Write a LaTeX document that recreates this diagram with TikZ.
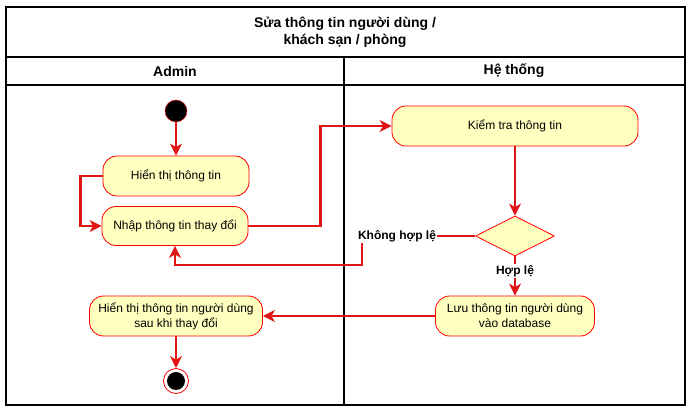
\documentclass[tikz,border=0pt]{standalone}
\usepackage{fontspec}
\setmainfont{Liberation Sans}
\usepackage{tikz}
\usetikzlibrary{arrows.meta}
\usetikzlibrary{shapes.geometric}
\usetikzlibrary{positioning}

\definecolor{flowred}{RGB}{224,22,22}
\definecolor{boxred}{RGB}{255,0,0}
\definecolor{boxfill}{RGB}{255,255,192}

\begin{document}
\begin{tikzpicture}[x=1pt, y=-1pt, >={Stealth[length=12pt,width=12pt,inset=3.5pt]},
  action/.style={draw=boxred, fill=boxfill, line width=0.8pt, rounded corners=14pt,
    align=center, inner sep=2pt, font=\fontsize{12}{15}\selectfont},
  decision/.style={diamond, draw=boxred, fill=boxfill, line width=0.8pt, aspect=2,
    inner sep=0pt, minimum width=79pt, minimum height=40pt},
  flow/.style={draw=flowred, line width=2.6pt},
  guard/.style={fill=white, inner sep=1pt, font=\bfseries\fontsize{12}{14}\selectfont},
  lanehead/.style={font=\bfseries\fontsize{14}{17}\selectfont}]
  \useasboundingbox (0,0) rectangle (699,414);

  % swimlanes
  \draw[line width=1.6pt] (6,7) rectangle (685,405);
  \draw[line width=1.6pt] (6,57) -- (685,57);
  \draw[line width=1.6pt] (6,85) -- (685,85);
  \draw[line width=1.6pt] (344,57) -- (344,405);
  \node[lanehead, align=center] (title) at (345,32) {Sửa thông tin người dùng /\\khách sạn / phòng};
  \node[lanehead] (admin) at (175,71) {Admin};
  \node[lanehead] (system) at (514,71) {Hệ thống};

  % nodes
  \node[circle, fill=black, draw=boxred, minimum size=22pt, inner sep=0pt] (start) at (176,111) {};
  \node[action, minimum width=146pt, minimum height=40pt] (show) at (176,176) {Hiển thị thông tin};
  \node[action, minimum width=146pt, minimum height=39pt] (input) at (175,226) {Nhập thông tin thay đổi};
  \node[action, minimum width=246pt, minimum height=40pt] (check) at (515,126) {Kiểm tra thông tin};
  \node[decision] (valid) at (515,236) {};
  \node[action, minimum width=159pt, minimum height=40pt] (save) at (515,316) {Lưu thông tin người dùng\\vào database};
  \node[action, minimum width=173pt, minimum height=40pt] (result) at (176,316) {Hiển thị thông tin người dùng\\sau khi thay đổi};
  \node[circle, fill=white, draw=boxred, line width=0.8pt, minimum size=25pt, inner sep=0pt] (stop) at (176,381) {};
  \node[circle, fill=black, minimum size=18pt, inner sep=0pt] (stopdot) at (stop) {};

  % connectors
  \draw[flow, ->] (start) -- (show);
  \draw[flow, ->] (show.west) -- ++(-22,0) |- (input.west);
  \draw[flow, ->] (input.east) -- ++(72,0) |- (check.west);
  \draw[flow, ->] (check) -- (valid);
  \draw[flow, ->] (valid.west) -- ++(-113,0) coordinate (bend) -- ++(0,29) -| (input.south);
  \node[guard] (invalid) at (397,236) {Không hợp lệ};
  \draw[flow, ->] (valid.south) -- (save.north);
  \node[guard] (ok) at (515,271) {Hợp lệ};
  \draw[flow, ->] (save) -- (result);
  \draw[flow, ->] (result) -- (stop);
\end{tikzpicture}
\end{document}
